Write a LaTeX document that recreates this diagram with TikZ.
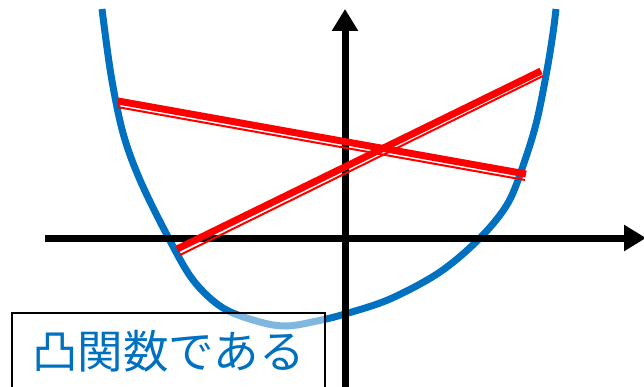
\documentclass[tikz,border=0pt]{standalone}
\usepackage{fontspec}
\newfontfamily\cjk{Noto Sans CJK JP}
\usetikzlibrary{arrows.meta}
\definecolor{curveblue}{RGB}{0,112,192}
\tikzset{
  axis/.style={line width=7pt, black, -{Triangle[length=22pt,width=25pt]}},
  curve/.style={line width=7pt, curveblue},
  chordthick/.style={line width=7pt, red},
  chordthin/.style={line width=2pt, red},
  labelbox/.style={draw=black, line width=1.3pt, fill=white, fill opacity=0.5, text opacity=1}
}
\begin{document}
\begin{tikzpicture}[x=1pt,y=-1pt]
\useasboundingbox (0,0) rectangle (644,387);
% convex curve
\draw[curve] plot[smooth, tension=0.55] coordinates {
 (102,9) (111,75) (123,133) (140,180) (167,235) (193,280)
 (223,308) (260,322) (287,326) (317,321) (345,314) (390,299) (440,272) (480,238)
 (508,203) (525,160) (537,120) (547,70) (553,33) (556,9)};
% axes
\coordinate (xs) at (45,238);
\coordinate (xe) at (646,238);
\coordinate (ys) at (345,390);
\coordinate (ye) at (345,9);
\draw[axis] (xs) -- (xe);
\draw[axis] (ys) -- (ye);
% chords
\coordinate (a1) at (118,101);
\coordinate (b1) at (526,174);
\coordinate (a1t) at (117,107);
\coordinate (b1t) at (525,180);
\coordinate (a2) at (177,249);
\coordinate (b2) at (541,71);
\coordinate (a2t) at (180,255);
\coordinate (b2t) at (543,76);
\draw[chordthick] (a1) -- (b1);
\draw[chordthin] (a1t) -- (b1t);
\draw[chordthick] (a2) -- (b2);
\draw[chordthin] (a2t) -- (b2t);
% label box
\path[labelbox] (12,313) rectangle (325,400);
\node[anchor=west, inner sep=0pt, text=curveblue, font=\cjk\fontsize{45.5}{46}\selectfont] (lbl) at (32,351) {凸関数である};
\end{tikzpicture}
\end{document}
